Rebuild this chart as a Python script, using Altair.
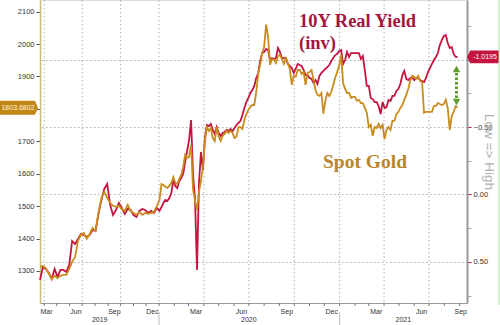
import altair as alt
import pandas as pd

# ---------------- data ----------------
# weekly points, 2019 (Fri 22 Mar 2019 ... Fri 27 Dec 2019)
gold_2019 = [1313, 1315, 1308, 1291, 1275, 1285, 1278, 1285, 1288, 1288,
             1306, 1328, 1343, 1393, 1411, 1417, 1399, 1414, 1433, 1423,
             1479, 1525, 1544, 1525, 1510, 1501, 1498, 1501, 1491, 1485,
             1504, 1485, 1479, 1473, 1482, 1473, 1479, 1476, 1479, 1482,
             1501]
yld_2019 = [0.633, 0.537, 0.552, 0.581, 0.626, 0.552, 0.611, 0.559, 0.559, 0.574,
            0.522, 0.344, 0.367, 0.330, 0.293, 0.300, 0.315, 0.300, 0.263, 0.270,
            0.144, 0.041, -0.041, -0.078, 0.078, 0.152, 0.115, 0.063, 0.100, 0.144,
            0.107, 0.115, 0.152, 0.167, 0.122, 0.107, 0.115, 0.137, 0.122, 0.137,
            0.100]
# every 4 days, 2 Jan 2020 ... 28 Aug 2021
gold_2020_21 = [1519, 1568, 1565, 1559, 1556, 1562, 1572, 1590, 1572, 1568,
                1584, 1596, 1621, 1658, 1649, 1652, 1689, 1550, 1516, 1488,
                1544, 1578, 1621, 1698, 1744, 1732, 1741, 1710, 1701, 1744,
                1714, 1701, 1717, 1723, 1732, 1726, 1732, 1726, 1710, 1714,
                1744, 1744, 1738, 1766, 1784, 1797, 1806, 1812, 1812, 1852,
                1908, 1936, 1973, 1991, 2060, 2022, 1936, 1954, 1951, 1942,
                1963, 1967, 1954, 1939, 1957, 1942, 1923, 1874, 1902, 1899,
                1920, 1920, 1908, 1914, 1874, 1911, 1914, 1920, 1889, 1859,
                1843, 1840, 1849, 1785, 1825, 1849, 1840, 1852, 1874, 1896,
                1914, 1933, 1967, 1880, 1862, 1849, 1849, 1834, 1837, 1837,
                1825, 1828, 1818, 1818, 1803, 1788, 1744, 1751, 1717, 1744,
                1741, 1754, 1741, 1751, 1707, 1735, 1744, 1735, 1763, 1763,
                1784, 1791, 1803, 1812, 1828, 1843, 1862, 1886, 1902, 1899,
                1893, 1902, 1886, 1883, 1788, 1791, 1791, 1791, 1791, 1809,
                1809, 1818, 1815, 1812, 1815, 1828, 1803, 1735, 1778, 1791,
                1809, 1803.6802]
yld_2020_21 = [0.122, 0.093, 0.063, 0.041, 0.048, 0.026, -0.011, -0.107, -0.063, -0.048,
               -0.100, -0.122, -0.152, -0.241, -0.322, -0.404, -0.552, -0.144, 0.033, 0.560,
               -0.085, -0.315, -0.181, -0.419, -0.515, -0.507, -0.522, -0.478, -0.448, -0.500,
               -0.456, -0.433, -0.456, -0.463, -0.478, -0.470, -0.485, -0.470, -0.493, -0.515,
               -0.530, -0.544, -0.589, -0.641, -0.685, -0.715, -0.752, -0.774, -0.804, -0.863,
               -0.900, -0.989, -1.048, -1.056, -1.078, -1.070, -0.996, -1.011, -1.004, -1.011,
               -1.085, -1.056, -1.011, -1.011, -1.011, -0.967, -0.952, -0.937, -0.900, -0.930,
               -0.967, -0.959, -0.952, -0.922, -0.885, -0.885, -0.863, -0.856, -0.826, -0.848,
               -0.819, -0.878, -0.900, -0.915, -0.930, -0.944, -0.959, -0.989, -1.011, -1.033,
               -1.041, -1.063, -1.070, -0.967, -0.996, -1.056, -1.019, -1.048, -1.048, -1.048,
               -1.048, -1.048, -1.004, -1.026, -0.922, -0.804, -0.804, -0.715, -0.707, -0.685,
               -0.685, -0.656, -0.596, -0.685, -0.641, -0.648, -0.700, -0.693, -0.730, -0.730,
               -0.767, -0.781, -0.819, -0.885, -0.915, -0.856, -0.848, -0.863, -0.870, -0.848,
               -0.863, -0.863, -0.848, -0.841, -0.833, -0.863, -0.907, -0.937, -0.967, -0.996,
               -1.019, -1.048, -1.107, -1.144, -1.174, -1.181, -1.122, -1.085, -1.093, -1.041,
               -1.019, -1.0195]

last_gold = 1803.6802
last_yld = -1.0195
gold_tag_text = "1803.6802"
yld_tag_text = "-1.0195"

gold_ticks = [1300, 1400, 1500, 1600, 1700, 1800, 1900, 2000, 2100]
yld_ticks = [-1.25, -1.0, -0.75, -0.5, -0.25, 0.0, 0.25, 0.5, 0.75]

month_label_dates = ["2019-03-22", "2019-06-15", "2019-09-15", "2019-12-15",
                     "2020-03-15", "2020-06-15", "2020-09-15", "2020-12-15",
                     "2021-03-15", "2021-06-15", "2021-09-15"]
quarter_lines = ["2019-04-01", "2019-07-01", "2019-10-01", "2020-01-01", "2020-04-01",
                 "2020-07-01", "2020-10-01", "2021-01-01", "2021-04-01", "2021-07-01"]
month_ticks = [d.strftime("%Y-%m-%d") for d in pd.date_range("2019-04-01", "2021-09-01", freq="MS")]
years = ["2019", "2020", "2021"]
year_centers = ["2019-08-12", "2020-07-01", "2021-05-10"]
year_breaks = ["2020-01-01", "2021-01-01"]
x_breakpoints = ["2019-03-22", "2020-01-01", "2021-09-16"]


def ms(s):
    """ISO date -> milliseconds since epoch (UTC)."""
    return int(pd.Timestamp(s, tz="UTC").value // 10**6)


dates = ([d.strftime("%Y-%m-%d") for d in pd.date_range("2019-03-22", periods=len(gold_2019), freq="7D")] +
         [d.strftime("%Y-%m-%d") for d in pd.date_range("2020-01-02", periods=len(gold_2020_21), freq="4D")])
df = pd.DataFrame({"t": [ms(d) for d in dates], "gold": gold_2019 + gold_2020_21,
                   "yld": yld_2019 + yld_2020_21})

# ---------------- styling ----------------
W, H = 427, 303
FONT = "Liberation Sans"
SERIF = "Liberation Serif"
RED = "#c41440"
GOLD = "#c98c1f"
GREEN = "#5e9c2c"

# the source chart squeezes 2019 a little: piecewise time axis
xscale = alt.Scale(domain=[ms(s) for s in x_breakpoints], range=[0, 119, W], nice=False, zero=False)
xaxis = alt.Axis(values=[ms(s) for s in month_label_dates],
                 labelExpr="utcFormat(datum.value, '%b')", ticks=False, grid=False,
                 domainColor="#9a9a9a", domainWidth=1, labelFont=FONT, labelFontSize=7,
                 labelColor="#333333", labelPadding=4, labelFlush=5, title=None)

gscale = alt.Scale(domain=[1201, 2136], nice=False, zero=False)
gaxis = alt.Axis(orient="left", values=gold_ticks,
                 labelExpr="datum.value == 1800 ? '' : format(datum.value, 'd')",
                 grid=False, tickColor="#555555",
                 tickSize=4, labelFont=FONT, labelFontSize=7.5, labelColor="#333333",
                 labelPadding=2, domainColor="#cdbb7a", domainWidth=1.5, title=None)

yscale = alt.Scale(domain=[-1.441, 0.804], reverse=True, nice=False, zero=False)
major = "abs(datum.value*2 - round(datum.value*2)) < 0.01"
yaxis = alt.Axis(orient="right", values=yld_ticks,
                 labelExpr="(abs(datum.value) == 1 || abs(datum.value*2 - round(datum.value*2)) > 0.01) ? '' : format(datum.value, '.2f')",
                 tickColor={"condition": {"test": major, "value": RED}, "value": "#aaaaaa"},
                 tickSize=4, grid=True, gridColor="#aaaaaa", gridDash=[1.5, 2.5],
                 gridOpacity={"condition": {"test": major, "value": 1}, "value": 0},
                 domainColor="#9a9a9a", domainWidth=2, labelFont=FONT, labelFontSize=7.5,
                 labelColor="#333333", labelPadding=2,
                 title="Low => High", titleAngle=90, titleFont=FONT, titleFontSize=13.5,
                 titleFontWeight="normal", titleColor="#b0b0b0", titleX=21, titleY=H / 2,
                 titleAlign="center", titleBaseline="middle")

one = pd.DataFrame({"k": [0]})


def X(field):
    return alt.X(f"{field}:Q", scale=xscale, axis=xaxis)


vgrid = alt.Chart(pd.DataFrame({"d": [ms(s) for s in quarter_lines]})).mark_rule(
    color="#b0b0b0", strokeDash=[1.5, 2.5], strokeWidth=1).encode(
    x=X("d"), y=alt.value(0), y2=alt.value(H))

mticks = alt.Chart(pd.DataFrame({"d": [ms(s) for s in month_ticks]})).mark_rule(color="#777777").encode(
    x=X("d"), y=alt.value(H), y2=alt.value(H + 3))

ybreaks = alt.Chart(pd.DataFrame({"d": [ms(s) for s in year_breaks]})).mark_rule(color="#bbbbbb").encode(
    x=X("d"), y=alt.value(H + 9), y2=alt.value(H + 22))

ylabels = alt.Chart(pd.DataFrame({"d": [ms(s) for s in year_centers], "t": years})).mark_text(
    font=FONT, fontSize=7, color="#333333", baseline="middle").encode(
    x=X("d"), y=alt.value(H + 17), text="t:N")

red_line = alt.Chart(df).mark_line(color=RED, strokeWidth=1.8).encode(
    x=X("t"), y=alt.Y("yld:Q", scale=yscale, axis=yaxis))
ytag = pd.DataFrame({"v": [last_yld], "s": [yld_tag_text]})
red_tag = alt.Chart(ytag).mark_point(
    shape="M-1,0L-0.8,-0.4L1,-0.4L1,0.4L-0.8,0.4Z", size=1024, filled=True,
    opacity=1, color=RED).encode(
    x=alt.value(W + 16), y=alt.Y("v:Q", scale=yscale, axis=yaxis))
red_tag_t = alt.Chart(ytag).mark_text(font=FONT, fontSize=7, color="white", baseline="middle").encode(
    x=alt.value(W + 18), y=alt.Y("v:Q", scale=yscale, axis=yaxis), text="s:N")
red_layer = alt.layer(red_line, red_tag, red_tag_t)

gold_line = alt.Chart(df).mark_line(color=GOLD, strokeWidth=1.8).encode(
    x=X("t"), y=alt.Y("gold:Q", scale=gscale, axis=gaxis))
gtag = pd.DataFrame({"v": [last_gold], "s": [gold_tag_text]})
gold_tag = alt.Chart(gtag).mark_point(
    shape="M-1,-0.37L0.84,-0.37L1,0L0.84,0.37L-1,0.37Z", size=1444, filled=True,
    opacity=1, color="#c0861a").encode(
    x=alt.value(-21), y=alt.Y("v:Q", scale=gscale, axis=gaxis))
gold_tag_t = alt.Chart(gtag).mark_text(font=FONT, fontSize=7, color="#fff6dc", baseline="middle").encode(
    x=alt.value(-22), y=alt.Y("v:Q", scale=gscale, axis=gaxis), text="s:N")
gold_layer = alt.layer(gold_line, gold_tag, gold_tag_t)

t1 = alt.Chart(one).mark_text(text="10Y Real Yield", font=SERIF, fontSize=18.5, fontWeight="bold",
                              color="#a5163f", align="left", baseline="alphabetic").encode(
    x=alt.value(259), y=alt.value(27))
t2 = alt.Chart(one).mark_text(text="(inv)", font=SERIF, fontSize=18.5, fontWeight="bold",
                              color="#a5163f", align="left", baseline="alphabetic").encode(
    x=alt.value(259), y=alt.value(49))
t3 = alt.Chart(one).mark_text(text="Spot Gold", font=SERIF, fontSize=19.5, fontWeight="bold",
                              color="#b8862b", align="left", baseline="alphabetic").encode(
    x=alt.value(283), y=alt.value(168))

arrow_line = alt.Chart(one).mark_rule(color=GREEN, strokeWidth=3, strokeDash=[2.5, 2]).encode(
    x=alt.value(416.5), y=alt.value(73), y2=alt.value(98))
arrow_up = alt.Chart(one).mark_point(shape="triangle-up", size=55, filled=True, opacity=1,
                                     color=GREEN).encode(x=alt.value(416.5), y=alt.value(69))
arrow_dn = alt.Chart(one).mark_point(shape="triangle-down", size=55, filled=True, opacity=1,
                                     color=GREEN).encode(x=alt.value(416.5), y=alt.value(102))
border = alt.Chart(one).mark_rule(color="#a8e0a0", strokeWidth=1).encode(
    x=alt.value(459), y=alt.value(0), y2=alt.value(H + 2))

chart = alt.layer(
    vgrid, mticks, ybreaks, ylabels, red_layer, gold_layer,
    t1, t2, t3, arrow_line, arrow_up, arrow_dn, border
).resolve_scale(y="independent").properties(
    width=W, height=H,
    autosize=alt.AutoSizeParams(type="none"),
    padding={"left": 40, "top": 0, "right": 33, "bottom": 22},
).configure_view(stroke=None).configure(background="white")

chart.save("out.html", embed_options={"renderer": "svg", "actions": False})
